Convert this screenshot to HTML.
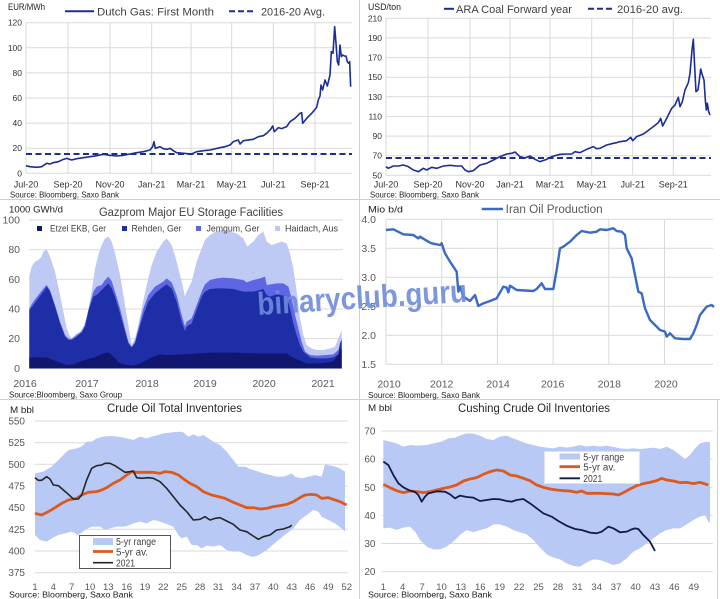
<!DOCTYPE html>
<html><head><meta charset="utf-8"><style>
html,body{margin:0;padding:0;background:#fff;}
svg{display:block;font-family:"Liberation Sans",Arial,sans-serif;}
.np{vector-effect:non-scaling-stroke;fill:none;}
</style></head><body>
<svg width="720" height="599" viewBox="0 0 720 599" xmlns="http://www.w3.org/2000/svg">
<rect width="720" height="599" fill="#fff"/>

<!-- ============ PANEL 1 : Dutch Gas ============ -->
<g stroke="#d9d9d9" stroke-width="1">
<line x1="26" y1="22.7" x2="352" y2="22.7"/><line x1="26" y1="47.8" x2="352" y2="47.8"/>
<line x1="26" y1="72.9" x2="352" y2="72.9"/><line x1="26" y1="98" x2="352" y2="98"/>
<line x1="26" y1="123.1" x2="352" y2="123.1"/><line x1="26" y1="148.2" x2="352" y2="148.2"/>
<line x1="26" y1="173.3" x2="352" y2="173.3"/>
<line x1="26" y1="22.7" x2="26" y2="173.3"/><line x1="68" y1="22.7" x2="68" y2="173.3"/>
<line x1="110" y1="22.7" x2="110" y2="173.3"/><line x1="151.7" y1="22.7" x2="151.7" y2="173.3"/>
<line x1="191" y1="22.7" x2="191" y2="173.3"/><line x1="231.7" y1="22.7" x2="231.7" y2="173.3"/>
<line x1="273.3" y1="22.7" x2="273.3" y2="173.3"/><line x1="315" y1="22.7" x2="315" y2="173.3"/>
</g>
<g font-size="8.5" fill="#333" text-anchor="end">
<text x="22" y="25.7">120</text><text x="22" y="50.8">100</text><text x="22" y="75.9">80</text>
<text x="22" y="101">60</text><text x="22" y="126.1">40</text><text x="22" y="151.2">20</text><text x="22" y="176.3">0</text>
</g>
<g font-size="9" fill="#333" text-anchor="middle">
<text x="26" y="187.5">Jul-20</text><text x="68" y="187.5">Sep-20</text><text x="110" y="187.5">Nov-20</text>
<text x="151.7" y="187.5">Jan-21</text><text x="191" y="187.5">Mar-21</text><text x="231.7" y="187.5">May-21</text>
<text x="273.3" y="187.5">Jul-21</text><text x="315" y="187.5">Sep-21</text>
</g>
<text x="10" y="197.5" font-size="7.8" fill="#222" textLength="109" lengthAdjust="spacingAndGlyphs">Source: Bloomberg, Saxo Bank</text>
<text x="8" y="10" font-size="9" fill="#222" textLength="37" lengthAdjust="spacingAndGlyphs">EUR/MWh</text>
<line x1="65" y1="11.3" x2="94" y2="11.3" stroke="#1c2d96" stroke-width="2"/>
<text x="97" y="15.3" font-size="11.3" fill="#404040" textLength="117" lengthAdjust="spacingAndGlyphs">Dutch Gas: First Month</text>
<line x1="229" y1="11.3" x2="256" y2="11.3" stroke="#1c2d96" stroke-width="2" stroke-dasharray="6,3"/>
<text x="261" y="15.3" font-size="11.3" fill="#404040" textLength="64" lengthAdjust="spacingAndGlyphs">2016-20 Avg.</text>
<line x1="26" y1="154" x2="352" y2="154" stroke="#1c2d96" stroke-width="2" stroke-dasharray="6,3.5"/>
<g transform="scale(0.33333)">
<path class="np" stroke="#1c2d96" stroke-width="1.6" stroke-linejoin="round" d="M78,497 L90,500 L110,502 L125,500 L140,490 L150,492 L160,488 L175,485 L190,478 L200,475 L215,480 L230,476 L250,473 L270,470 L290,467 L310,463 L330,466 L350,468 L370,466 L390,462 L410,458 L430,455 L450,450 L458,440 L462,425 L466,445 L480,440 L490,446 L500,448 L510,445 L520,452 L530,458 L550,460 L575,462 L590,455 L610,452 L630,450 L660,443 L675,440 L690,435 L700,425 L715,420 L720,432 L730,422 L760,418 L775,410 L790,407 L800,400 L812,388 L818,378 L823,395 L835,383 L845,386 L860,380 L870,365 L885,355 L900,340 L905,338 L908,370 L920,355 L935,340 L950,322 L955,300 L960,288 L963,255 L968,270 L975,240 L982,258 L990,225 L994,155 L999,160 L1004,80 L1008,130 L1012,185 L1016,195 L1020,135 L1024,170 L1028,165 L1033,168 L1038,168 L1042,185 L1046,190 L1049,185 L1052,260"/>
</g>

<!-- ============ PANEL 2 : ARA Coal ============ -->
<g stroke="#d9d9d9" stroke-width="1">
<line x1="386" y1="18.3" x2="711" y2="18.3"/><line x1="386" y1="37.9" x2="711" y2="37.9"/>
<line x1="386" y1="57.6" x2="711" y2="57.6"/><line x1="386" y1="77.2" x2="711" y2="77.2"/>
<line x1="386" y1="96.8" x2="711" y2="96.8"/><line x1="386" y1="116.4" x2="711" y2="116.4"/>
<line x1="386" y1="136.1" x2="711" y2="136.1"/><line x1="386" y1="155.7" x2="711" y2="155.7"/>
<line x1="386" y1="175.3" x2="711" y2="175.3"/>
<line x1="386" y1="18.3" x2="386" y2="175.3"/><line x1="428" y1="18.3" x2="428" y2="175.3"/>
<line x1="470" y1="18.3" x2="470" y2="175.3"/><line x1="510" y1="18.3" x2="510" y2="175.3"/>
<line x1="550" y1="18.3" x2="550" y2="175.3"/><line x1="591.7" y1="18.3" x2="591.7" y2="175.3"/>
<line x1="632.7" y1="18.3" x2="632.7" y2="175.3"/><line x1="673.3" y1="18.3" x2="673.3" y2="175.3"/>
</g>
<g font-size="8.5" fill="#333" text-anchor="end">
<text x="382" y="21.3">210</text><text x="382" y="40.9">190</text><text x="382" y="60.6">170</text>
<text x="382" y="80.2">150</text><text x="382" y="99.8">130</text><text x="382" y="119.4">110</text>
<text x="382" y="139.1">90</text><text x="382" y="158.7">70</text><text x="382" y="178.3">50</text>
</g>
<g font-size="9" fill="#333" text-anchor="middle">
<text x="386" y="187.5">Jul-20</text><text x="428" y="187.5">Sep-20</text><text x="470" y="187.5">Nov-20</text>
<text x="510" y="187.5">Jan-21</text><text x="550" y="187.5">Mar-21</text><text x="591.7" y="187.5">May-21</text>
<text x="632.7" y="187.5">Jul-21</text><text x="673.3" y="187.5">Sep-21</text>
</g>
<text x="370" y="197.5" font-size="7.8" fill="#222" textLength="109" lengthAdjust="spacingAndGlyphs">Source: Bloomberg, Saxo Bank</text>
<text x="368" y="10" font-size="9" fill="#222" textLength="33" lengthAdjust="spacingAndGlyphs">USD/ton</text>
<line x1="444" y1="8.8" x2="454" y2="8.8" stroke="#1c2d96" stroke-width="2"/>
<text x="456" y="12.8" font-size="11.3" fill="#404040" textLength="116" lengthAdjust="spacingAndGlyphs">ARA Coal Forward year</text>
<line x1="588" y1="8.8" x2="612" y2="8.8" stroke="#1c2d96" stroke-width="2" stroke-dasharray="6,3"/>
<text x="617" y="12.8" font-size="11.3" fill="#404040" textLength="66" lengthAdjust="spacingAndGlyphs">2016-20 avg.</text>
<line x1="386" y1="158" x2="711" y2="158" stroke="#1c2d96" stroke-width="2" stroke-dasharray="6,3.5"/>
<g transform="translate(360,0) scale(0.33333)">
<path class="np" stroke="#1c2d96" stroke-width="1.6" stroke-linejoin="round" d="M78,500 L85,505 L100,498 L115,498 L130,495 L145,500 L160,510 L175,515 L190,505 L200,510 L215,502 L230,505 L250,498 L270,496 L290,498 L305,498 L315,510 L325,515 L340,512 L360,495 L380,490 L400,480 L420,470 L440,462 L455,460 L465,456 L480,470 L495,474 L510,468 L525,478 L540,485 L560,478 L575,470 L600,463 L620,462 L635,462 L645,455 L660,458 L680,448 L700,440 L710,446 L720,445 L740,435 L760,430 L770,428 L780,425 L800,422 L812,412 L818,422 L830,410 L850,402 L860,395 L880,380 L895,368 L902,355 L908,378 L920,355 L935,325 L945,315 L955,292 L960,320 L967,305 L975,270 L985,248 L990,220 L996,150 L1000,118 L1004,200 L1008,275 L1014,270 L1018,240 L1022,207 L1027,225 L1032,240 L1036,300 L1039,330 L1042,310 L1046,335 L1050,345"/>
</g>

<!-- separators -->
<line x1="359.5" y1="0" x2="359.5" y2="599" stroke="#d0d0d0" stroke-width="1"/>
<line x1="0" y1="199.5" x2="720" y2="199.5" stroke="#d0d0d0" stroke-width="1"/>
<line x1="0" y1="399.5" x2="720" y2="399.5" stroke="#d0d0d0" stroke-width="1"/>
<line x1="717.5" y1="400" x2="717.5" y2="599" stroke="#d0d0d0" stroke-width="1"/>

<!-- ============ PANEL 3 : Gazprom storage ============ -->
<g stroke="#d9d9d9" stroke-width="1">
<line x1="29" y1="220" x2="343" y2="220"/><line x1="29" y1="249.7" x2="343" y2="249.7"/>
<line x1="29" y1="279.3" x2="343" y2="279.3"/><line x1="29" y1="309" x2="343" y2="309"/>
<line x1="29" y1="338.6" x2="343" y2="338.6"/><line x1="29" y1="368.3" x2="343" y2="368.3"/>
</g>
<g transform="translate(0,195) scale(0.33333)">
<path fill="#bec9f4" d="M88,520 L88,242 L95,215 L105,200 L115,195 L125,185 L130,170 L140,163 L150,185 L165,230 L180,300 L190,350 L200,400 L208,420 L215,430 L225,420 L240,410 L250,395 L262,360 L275,290 L285,220 L295,180 L305,150 L315,130 L325,125 L335,140 L345,175 L360,240 L370,300 L380,360 L390,420 L395,450 L405,430 L415,390 L425,340 L440,270 L455,210 L470,170 L490,140 L500,130 L515,150 L530,200 L545,260 L555,305 L560,290 L575,260 L590,200 L605,160 L615,135 L630,120 L650,108 L670,105 L690,110 L710,115 L730,130 L742,155 L760,140 L775,120 L790,110 L800,140 L815,150 L830,145 L845,140 L860,145 L870,175 L880,220 L890,290 L900,370 L910,420 L920,450 L935,460 L950,465 L970,465 L990,460 L1005,455 L1015,430 L1025,405 L1025,520 Z"/>
<path fill="#5f66e4" d="M88,520 L88,340 L100,320 L115,300 L135,275 L140,270 L150,285 L165,330 L180,380 L195,420 L205,430 L215,432 L230,420 L245,410 L255,390 L265,345 L280,290 L290,275 L305,270 L315,255 L325,245 L335,258 L345,290 L360,340 L375,400 L385,440 L395,455 L405,440 L415,400 L430,340 L445,300 L465,275 L490,260 L500,250 L515,262 L530,300 L545,360 L555,395 L560,380 L575,370 L590,330 L605,290 L615,268 L630,255 L650,250 L670,248 L700,250 L730,255 L740,262 L760,255 L780,250 L795,245 L800,270 L830,265 L850,265 L865,275 L875,310 L885,360 L895,400 L905,440 L915,470 L930,480 L950,482 L980,480 L1000,478 L1015,465 L1025,430 L1025,520 Z"/>
<path fill="#1d2ea6" d="M88,520 L88,345 L100,330 L115,310 L135,283 L140,275 L150,290 L165,335 L180,385 L195,425 L205,435 L215,435 L230,425 L245,412 L255,395 L265,350 L280,305 L290,300 L305,285 L315,275 L325,265 L335,280 L345,305 L360,355 L375,410 L385,445 L395,458 L405,445 L415,410 L430,360 L445,320 L465,295 L490,275 L500,268 L515,280 L530,320 L545,380 L555,408 L560,395 L575,385 L590,345 L605,305 L615,290 L630,282 L650,280 L670,280 L700,282 L730,290 L760,290 L790,282 L800,300 L810,305 L830,298 L850,302 L860,310 L870,340 L880,385 L890,420 L900,450 L910,470 L930,487 L950,490 L980,490 L1000,487 L1015,478 L1020,445 L1025,435 L1025,520 Z"/>
<path fill="#11166f" d="M88,520 L88,488 L100,487 L140,487 L160,495 L185,505 L200,510 L220,508 L240,500 L260,493 L280,488 L300,480 L320,472 L330,475 L345,490 L360,505 L380,510 L400,512 L420,505 L440,495 L460,485 L480,478 L500,480 L520,480 L540,478 L560,478 L600,475 L640,473 L700,473 L760,475 L820,476 L860,476 L880,488 L900,497 L920,505 L960,505 L1000,500 L1015,480 L1020,465 L1025,460 L1025,520 Z"/>
</g>
<g font-size="10.5" fill="#595959" text-anchor="end">
<text x="20" y="223.5">100</text><text x="20" y="253.2">80</text><text x="20" y="282.8">60</text>
<text x="20" y="312.5">40</text><text x="20" y="342.1">20</text><text x="20" y="371.8">0</text>
</g>
<g font-size="10.5" fill="#595959" text-anchor="middle">
<text x="25" y="387">2016</text><text x="87" y="387">2017</text><text x="147" y="387">2018</text>
<text x="205" y="387">2019</text><text x="264" y="387">2020</text><text x="323" y="387">2021</text>
</g>
<text x="9" y="397.5" font-size="7.8" fill="#222" textLength="113" lengthAdjust="spacingAndGlyphs">Source:Bloomberg, Saxo Group</text>
<text x="9" y="212.5" font-size="9" fill="#222" textLength="54" lengthAdjust="spacingAndGlyphs">1000 GWh/d</text>
<text x="99" y="216" font-size="11.5" fill="#404040" textLength="184" lengthAdjust="spacingAndGlyphs">Gazprom Major EU Storage Facilities</text>
<rect x="37" y="226" width="5" height="5" fill="#11166f"/>
<text x="50" y="231.5" font-size="9" fill="#404040" textLength="56" lengthAdjust="spacingAndGlyphs">Etzel EKB, Ger</text>
<rect x="122" y="226" width="5" height="5" fill="#1d2ea6"/>
<text x="131.5" y="231.5" font-size="9" fill="#404040" textLength="50" lengthAdjust="spacingAndGlyphs">Rehden, Ger</text>
<rect x="196" y="226" width="5" height="5" fill="#5f66e4"/>
<text x="206.5" y="231.5" font-size="9" fill="#404040" textLength="53" lengthAdjust="spacingAndGlyphs">Jemgum, Ger</text>
<rect x="275" y="226" width="5" height="5" fill="#bec9f4"/>
<text x="285" y="231.5" font-size="9" fill="#404040" textLength="53" lengthAdjust="spacingAndGlyphs">Haidach, Aus</text>

<!-- ============ PANEL 4 : Iran ============ -->
<g stroke="#d9d9d9" stroke-width="1">
<line x1="386" y1="219.3" x2="713" y2="219.3"/><line x1="386" y1="248.3" x2="713" y2="248.3"/>
<line x1="386" y1="277.3" x2="713" y2="277.3"/><line x1="386" y1="306.3" x2="713" y2="306.3"/>
<line x1="386" y1="335.3" x2="713" y2="335.3"/><line x1="386" y1="364.3" x2="713" y2="364.3"/>
<line x1="386" y1="219.3" x2="386" y2="364.3"/><line x1="441.7" y1="219.3" x2="441.7" y2="364.3"/>
<line x1="497.4" y1="219.3" x2="497.4" y2="364.3"/><line x1="553.1" y1="219.3" x2="553.1" y2="364.3"/>
<line x1="608.8" y1="219.3" x2="608.8" y2="364.3"/><line x1="664.5" y1="219.3" x2="664.5" y2="364.3"/>
</g>
<g font-size="10.5" fill="#595959" text-anchor="end">
<text x="376" y="223">4.0</text><text x="376" y="252">3.5</text><text x="376" y="281">3.0</text>
<text x="376" y="310">2.5</text><text x="376" y="339">2.0</text><text x="376" y="368">1.5</text>
</g>
<g font-size="10.5" fill="#595959" text-anchor="middle">
<text x="389" y="387.5">2010</text><text x="441.7" y="387.5">2012</text><text x="498" y="387.5">2014</text>
<text x="552.7" y="387.5">2016</text><text x="609.3" y="387.5">2018</text><text x="666" y="387.5">2020</text>
</g>
<text x="368" y="398" font-size="8" fill="#222" textLength="112" lengthAdjust="spacingAndGlyphs">Source: Bloomberg, Saxo Bank</text>
<text x="368" y="212.5" font-size="9.5" fill="#222" textLength="35" lengthAdjust="spacingAndGlyphs">Mio b/d</text>
<line x1="481.7" y1="209" x2="503" y2="209" stroke="#3a6ac3" stroke-width="2.5"/>
<text x="505.7" y="213" font-size="11.5" fill="#595959" textLength="97" lengthAdjust="spacingAndGlyphs">Iran Oil Production</text>
<g transform="translate(360,195) scale(0.33333)">
<path class="np" stroke="#3a6ac3" stroke-width="2.4" stroke-linejoin="round" d="M78,105 L100,103 L130,118 L160,120 L175,130 L180,125 L205,140 L215,145 L240,150 L245,145 L255,175 L270,200 L290,230 L295,290 L300,275 L310,305 L330,318 L345,300 L355,333 L370,325 L390,318 L410,310 L430,275 L440,278 L445,292 L450,272 L470,285 L520,288 L530,282 L545,265 L555,282 L580,282 L590,225 L600,160 L610,155 L630,140 L650,120 L665,108 L690,113 L710,110 L720,103 L740,105 L760,100 L770,108 L785,110 L795,120 L800,160 L815,190 L825,240 L835,290 L845,295 L855,340 L870,375 L885,390 L900,405 L915,410 L920,425 L930,415 L945,430 L970,432 L990,432 L1000,415 L1010,390 L1020,360 L1040,335 L1055,330 L1062,336"/>
</g>

<!-- watermark -->
<text x="258" y="315" font-size="32" font-weight="bold" fill="#6f8cdb" fill-opacity="0.9" textLength="210" lengthAdjust="spacingAndGlyphs" transform="rotate(-3.6 258 315)">binaryclub.guru</text>

<!-- ============ PANEL 5 : Crude Oil Total ============ -->
<g stroke="#d9d9d9" stroke-width="1">
<line x1="35" y1="421" x2="348" y2="421"/><line x1="35" y1="442.7" x2="348" y2="442.7"/>
<line x1="35" y1="464.3" x2="348" y2="464.3"/><line x1="35" y1="486" x2="348" y2="486"/>
<line x1="35" y1="507.7" x2="348" y2="507.7"/><line x1="35" y1="529.3" x2="348" y2="529.3"/>
<line x1="35" y1="551" x2="348" y2="551"/><line x1="35" y1="572.7" x2="348" y2="572.7"/>
</g>
<g transform="translate(0,395) scale(0.33333)">
<path fill="#b9c9f5" d="M105,235 L130,230 L155,215 L175,195 L195,175 L205,165 L230,160 L245,155 L260,140 L275,140 L290,130 L310,125 L330,123 L355,125 L380,130 L400,135 L420,125 L440,130 L455,125 L475,120 L490,115 L515,112 L540,110 L550,112 L565,125 L580,118 L595,125 L610,120 L625,130 L640,140 L660,150 L680,170 L700,195 L715,215 L735,215 L750,222 L770,228 L790,235 L810,240 L830,245 L850,245 L865,240 L875,235 L885,245 L905,250 L925,245 L945,240 L965,245 L975,208 L985,210 L1005,215 L1020,220 L1035,230 L1035,410 L1025,400 L1005,385 L985,375 L965,365 L955,350 L940,345 L920,360 L900,375 L880,400 L860,415 L830,440 L800,465 L780,478 L765,485 L755,485 L740,480 L720,470 L700,470 L680,465 L660,450 L640,455 L620,452 L605,460 L590,450 L575,450 L560,425 L545,430 L535,420 L520,395 L495,385 L475,378 L460,375 L440,385 L420,380 L400,385 L375,395 L350,395 L330,400 L315,405 L300,395 L275,395 L255,405 L235,420 L215,410 L195,415 L175,420 L155,430 L140,440 L120,435 L105,420 Z"/>
<path class="np" stroke="#dc5a1e" stroke-width="2.8" stroke-linejoin="round" d="M105,355 L125,360 L145,350 L165,338 L185,325 L205,315 L230,310 L245,300 L265,292 L290,290 L305,285 L320,278 L340,265 L360,255 L380,240 L395,230 L410,232 L430,232 L460,232 L480,235 L495,230 L515,232 L535,240 L555,255 L570,265 L590,275 L610,290 L635,300 L655,305 L675,310 L700,322 L720,330 L740,338 L760,338 L780,342 L800,340 L820,335 L840,332 L860,328 L880,320 L900,308 L915,300 L935,298 L950,300 L965,310 L985,308 L1005,315 L1020,320 L1040,330"/>
<path class="np" stroke="#262626" stroke-width="1.6" stroke-linejoin="round" d="M105,248 L115,256 L125,256 L140,245 L150,252 L160,270 L175,272 L190,285 L205,298 L220,312 L235,312 L245,300 L260,255 L275,220 L290,212 L305,210 L315,205 L330,205 L345,212 L360,222 L375,232 L390,230 L400,228 L410,248 L425,250 L445,248 L460,250 L480,260 L500,280 L520,305 L540,330 L560,350 L580,375 L600,373 L615,365 L630,375 L645,370 L660,368 L680,378 L700,388 L720,405 L740,410 L755,420 L775,433 L790,425 L810,420 L830,405 L850,402 L870,395 L875,390"/>
</g>
<g font-size="10" fill="#595959" text-anchor="end">
<text x="25" y="424.5">550</text><text x="25" y="446.2">525</text><text x="25" y="467.8">500</text>
<text x="25" y="489.5">475</text><text x="25" y="511.2">450</text><text x="25" y="532.8">425</text>
<text x="25" y="554.5">400</text><text x="25" y="576.2">375</text>
</g>
<g font-size="9.5" fill="#595959" text-anchor="middle">
<text x="35" y="590">1</text><text x="53.3" y="590">4</text><text x="71.7" y="590">7</text><text x="90" y="590">10</text>
<text x="108.3" y="590">13</text><text x="126.7" y="590">16</text><text x="145" y="590">19</text><text x="163.3" y="590">22</text>
<text x="181.7" y="590">25</text><text x="200" y="590">28</text><text x="218.3" y="590">31</text><text x="236.7" y="590">34</text>
<text x="255" y="590">37</text><text x="273.3" y="590">40</text><text x="291.7" y="590">43</text><text x="310" y="590">46</text>
<text x="328.3" y="590">49</text><text x="346.7" y="590">52</text>
</g>
<text x="9" y="597.5" font-size="7.8" fill="#222" textLength="124" lengthAdjust="spacingAndGlyphs">Source: Bloomberg, Saxo Bank</text>
<text x="10" y="413" font-size="9" fill="#222" textLength="24" lengthAdjust="spacingAndGlyphs">M bbl</text>
<text x="107" y="412" font-size="11.5" fill="#262626" textLength="135" lengthAdjust="spacingAndGlyphs">Crude Oil Total Inventories</text>
<rect x="79.5" y="535.5" width="91" height="33" fill="#fff" stroke="#555" stroke-width="1"/>
<rect x="93" y="538" width="20" height="7" fill="#b9c9f5"/>
<text x="116" y="545" font-size="10" fill="#404040" textLength="40" lengthAdjust="spacingAndGlyphs">5-yr range</text>
<line x1="93" y1="551.5" x2="113" y2="551.5" stroke="#dc5a1e" stroke-width="2.8"/>
<text x="116" y="555.5" font-size="10" fill="#404040" textLength="32" lengthAdjust="spacingAndGlyphs">5-yr av.</text>
<line x1="93" y1="562.7" x2="113" y2="562.7" stroke="#262626" stroke-width="1.6"/>
<text x="116" y="566.5" font-size="10" fill="#404040" textLength="19" lengthAdjust="spacingAndGlyphs">2021</text>

<!-- ============ PANEL 6 : Cushing ============ -->
<g stroke="#d9d9d9" stroke-width="1">
<line x1="381.7" y1="431" x2="712.7" y2="431"/><line x1="381.7" y1="459.1" x2="712.7" y2="459.1"/>
<line x1="381.7" y1="487.3" x2="712.7" y2="487.3"/><line x1="381.7" y1="515.4" x2="712.7" y2="515.4"/>
<line x1="381.7" y1="543.5" x2="712.7" y2="543.5"/><line x1="381.7" y1="571.7" x2="712.7" y2="571.7"/>
</g>
<g transform="translate(360,395) scale(0.33333)">
<path fill="#b9c9f5" d="M70,135 L90,140 L110,145 L130,155 L150,150 L175,152 L200,150 L220,145 L245,140 L265,130 L285,128 L300,122 L320,115 L340,116 L360,122 L380,132 L400,135 L420,125 L440,122 L460,130 L480,138 L500,145 L520,150 L540,155 L560,158 L580,160 L600,155 L620,158 L640,155 L660,150 L680,155 L700,152 L720,155 L740,152 L760,156 L780,160 L800,162 L820,160 L840,162 L860,160 L880,158 L900,162 L920,155 L940,165 L960,180 L975,192 L990,180 L1005,160 L1020,145 L1040,140 L1050,143 L1050,383 L1045,380 L1035,360 L1020,365 L1000,375 L980,388 L960,400 L940,400 L920,405 L900,415 L880,430 L860,445 L840,460 L820,470 L800,490 L780,505 L760,510 L740,502 L720,495 L700,493 L680,502 L660,515 L640,513 L620,505 L600,493 L580,488 L560,478 L540,458 L520,435 L500,418 L480,412 L460,405 L440,395 L420,388 L400,388 L380,400 L360,405 L340,412 L320,405 L300,420 L280,440 L260,455 L240,463 L220,463 L200,455 L180,435 L165,410 L150,395 L130,398 L110,405 L90,398 L70,400 Z"/>
<path class="np" stroke="#dc5a1e" stroke-width="2.8" stroke-linejoin="round" d="M70,268 L90,278 L110,287 L130,293 L150,288 L170,290 L190,293 L210,290 L230,285 L250,280 L270,276 L290,270 L310,258 L330,252 L350,248 L370,238 L390,230 L410,225 L430,228 L450,240 L470,243 L490,250 L510,257 L530,270 L550,277 L570,282 L590,285 L610,287 L630,288 L650,292 L665,288 L680,295 L700,295 L720,295 L740,296 L760,297 L775,300 L790,293 L810,282 L830,272 L850,266 L870,262 L890,257 L905,250 L920,255 L940,258 L960,263 L980,262 L1000,266 L1020,262 L1045,270"/>
<path class="np" stroke="#101c4a" stroke-width="1.8" stroke-linejoin="round" d="M70,200 L85,210 L100,240 L115,265 L130,277 L150,287 L165,291 L175,300 L185,320 L195,305 L205,295 L230,289 L255,290 L270,298 L285,310 L300,302 L320,306 L340,308 L360,318 L380,315 L400,312 L420,313 L440,318 L455,320 L470,315 L490,312 L510,325 L530,340 L550,355 L575,365 L595,378 L620,392 L645,402 L665,405 L690,413 L710,415 L725,410 L745,395 L760,400 L780,412 L800,410 L815,403 L825,400 L835,402 L850,420 L870,440 L885,468"/>
</g>
<g font-size="10" fill="#595959" text-anchor="end">
<text x="375.5" y="434.5">70</text><text x="375.5" y="462.6">60</text><text x="375.5" y="490.8">50</text>
<text x="375.5" y="518.9">40</text><text x="375.5" y="547">30</text><text x="375.5" y="575.2">20</text>
</g>
<g font-size="9.5" fill="#595959" text-anchor="middle">
<text x="383.3" y="590">1</text><text x="402.7" y="590">4</text><text x="422.1" y="590">7</text><text x="441.5" y="590">10</text>
<text x="460.9" y="590">13</text><text x="480.3" y="590">16</text><text x="499.7" y="590">19</text><text x="519.1" y="590">22</text>
<text x="538.5" y="590">25</text><text x="557.9" y="590">28</text><text x="577.3" y="590">31</text><text x="596.7" y="590">34</text>
<text x="616.1" y="590">37</text><text x="635.5" y="590">40</text><text x="654.9" y="590">43</text><text x="674.3" y="590">46</text>
<text x="693.7" y="590">49</text>
</g>
<text x="368" y="597.5" font-size="7.8" fill="#222" textLength="124" lengthAdjust="spacingAndGlyphs">Source: Bloomberg, Saxo Bank</text>
<text x="368" y="411" font-size="9" fill="#222" textLength="24" lengthAdjust="spacingAndGlyphs">M bbl</text>
<text x="458" y="412" font-size="11.5" fill="#262626" textLength="152" lengthAdjust="spacingAndGlyphs">Cushing Crude Oil Inventories</text>
<rect x="544.5" y="451.5" width="95" height="32" fill="#fff" stroke="#e3e3e3" stroke-width="1"/>
<rect x="559.5" y="453.5" width="20.5" height="6" fill="#b9c9f5"/>
<text x="583.3" y="460.5" font-size="10" fill="#404040" textLength="41" lengthAdjust="spacingAndGlyphs">5-yr range</text>
<line x1="559.5" y1="466.7" x2="580" y2="466.7" stroke="#dc5a1e" stroke-width="2.8"/>
<text x="583.3" y="470.5" font-size="10" fill="#404040" textLength="32" lengthAdjust="spacingAndGlyphs">5-yr av.</text>
<line x1="559.5" y1="478.3" x2="580" y2="478.3" stroke="#101c4a" stroke-width="1.8"/>
<text x="583.3" y="482" font-size="10" fill="#404040" textLength="19" lengthAdjust="spacingAndGlyphs">2021</text>
</svg>
</body></html>
